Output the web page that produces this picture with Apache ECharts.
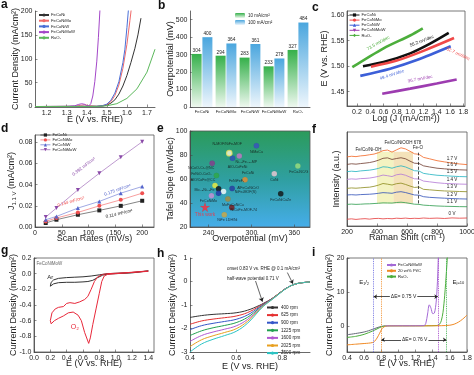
<!DOCTYPE html>
<html>
<head>
<meta charset="utf-8">
<script src="https://cdn.jsdelivr.net/npm/echarts@6.0.0/dist/echarts.min.js"></script>
<style>
  html, body { margin: 0; padding: 0; background: #fff; }
  #chart { width: 474px; height: 375px; }
</style>
</head>
<body>
<div id="chart"></div>
<script>
// ---- a: OER polarization curves, [E (V), j (mA/cm2)] ----
const aNames = ['FeCoNi', 'FeCoNiMo', 'FeCoNiW', 'FeCoNiMoW', 'RuO₂'];
const aFeCoNi = [[1.142, 0], [1.45, 0.4], [1.48, 1], [1.5, 3], [1.52, 7], [1.54, 14], [1.56, 26], [1.58, 43], [1.6, 65], [1.62, 92], [1.64, 122], [1.655, 150], [1.67, 185]];
const aFeCoNiMo = [[1.142, 0], [1.34, 0.5], [1.37, 2.5], [1.39, 3.5], [1.41, 2], [1.45, 0.5], [1.48, 2], [1.5, 4], [1.52, 10], [1.54, 23], [1.56, 45], [1.58, 80], [1.6, 130], [1.615, 180], [1.622, 205]];
const aFeCoNiW = [[1.142, 0], [1.45, 0.5], [1.48, 2], [1.5, 5], [1.52, 13], [1.54, 28], [1.56, 52], [1.58, 92], [1.59, 120], [1.6, 165], [1.608, 205]];
const aFeCoNiMoW = [[1.142, 0], [1.3, 0.2], [1.34, 1.5], [1.36, 4.5], [1.375, 5.8], [1.39, 4.5], [1.4, 2], [1.41, 1.2], [1.42, 6], [1.43, 22], [1.44, 52], [1.45, 95], [1.458, 145], [1.466, 205]];
const aRuO2 = [[1.142, 0], [1.45, 0.3], [1.5, 1.5], [1.55, 6], [1.6, 17], [1.65, 37], [1.7, 72], [1.74, 120]];

// ---- b: overpotentials (mV) ----
const bNames = ['FeCoNi', 'FeCoNiMo', 'FeCoNiW', 'FeCoNiMoW', 'RuO₂'];
const b10 = [304, 294, 283, 233, 327];
const b100 = [400, 364, 361, 278, 484];

// ---- c: Tafel plots, [log j, E] ----
const cNames = ['FeCoNi', 'FeCoNiMo', 'FeCoNiW', 'FeCoNiMoW', 'RuO₂'];
const cFeCoNi = [[0.29, 1.500], [0.6, 1.508], [1.0, 1.525], [1.3, 1.544], [1.58, 1.565]];
const cFeCoNiMo = [[0.41, 1.499], [0.8, 1.511], [1.2, 1.530], [1.66, 1.555]];
const cFeCoNiW = [[0.25, 1.481], [0.7, 1.495], [1.1, 1.512], [1.61, 1.539]];
const cFeCoNiMoW = [[0.58, 1.446], [1.0, 1.456], [1.4, 1.466], [1.7, 1.474]];
const cRuO2 = [[0.13, 1.498], [0.6, 1.535], [1.0, 1.560], [1.19, 1.574]];
const cSlopes = ['55.2 mV/dec', '52.7 mV/dec', '49.4 mV/dec', '36.7 mV/dec', '73.5 mV/dec'];

// ---- d: double-layer capacitance ----
const dNames = ['FeCoNi', 'FeCoNiMo', 'FeCoNiW', 'FeCoNiMoW'];
const dRates = [20, 40, 80, 120, 160, 200];
const dFeCoNi = [0.0038, 0.0069, 0.0116, 0.0157, 0.0200, 0.0248];
const dFeCoNiMo = [0.0053, 0.0085, 0.0138, 0.0200, 0.0257, 0.0320];
const dFeCoNiW = [0.0069, 0.0100, 0.0179, 0.0242, 0.0320, 0.0383];
const dFeCoNiMoW = [0.0094, 0.0179, 0.0351, 0.0508, 0.0659, 0.0806];
const dCdl = ['0.114 mF/cm²', '0.144 mF/cm²', '0.175 mF/cm²', '0.392 mF/cm²'];

// ---- e: comparison with reported catalysts ----
const eNames = ['NiMoCu', 'N-MOF/NiFe-MOF', 'Ni₁.₅Fe₁.₅-MP', 'AlO-CoFeNi', 'NiCoO₂Cr₂@NC', 'FeNiO₂CoO₂', 'FeCoNi', 'CoNi', 'FeCo-NC/G', 'FeCoNiCuZn', 'AlO/CoFe@CC', 'FeNiFeF₂', 'NiFe-MOF(S)', 'Mo₁.₅Ni₁.₅Fe', 'AlFeCoNiCrO', 'FeCoNiMo', 'MoFeCoNiCu', 'NiCoFe-MOF-74', 'NiFe LDH/Ni', 'This work'];
const eEta = [307, 269, 283, 273.5, 245, 251, 291, 332, 365, 341, 249, 254, 261, 254, 273, 244, 267, 272.5, 262, 235];
const eTafel = [87.8, 81.5, 79.2, 77.3, 73.1, 62.9, 59.3, 64.3, 70.9, 47.7, 54.6, 51.8, 49.6, 48.2, 52.1, 46.0, 43.3, 36.3, 30.2, 36.6];

// ---- f: in-situ Raman spectra (offset) ----
const fVolts = ['1.7 V', '1.6 V', '1.5 V', '1.4 V', '1.3 V', '1.2 V', '1.1 V', '0 V'];
const fShift = [200, 230, 260, 290, 320, 350, 380, 410, 440, 470, 500, 530, 560, 590, 620, 650, 680, 710, 750, 800, 850, 900, 950, 1000];
const f17 = [73.5, 74.2, 73.8, 74.6, 75.0, 75.8, 76.5, 78.0, 80.2, 80.8, 78.6, 81.0, 83.2, 82.0, 79.5, 76.8, 76.2, 73.0, 71.5, 69.5, 68.2, 67.0, 66.0, 65.3];
const f16 = [65.5, 66.2, 65.8, 66.4, 66.9, 67.5, 68.5, 70.0, 72.0, 72.5, 70.8, 71.8, 72.6, 71.5, 69.0, 66.8, 66.5, 64.0, 62.8, 61.5, 60.8, 60.2, 59.8, 59.5];
const f15 = [57.8, 58.3, 57.9, 58.6, 59.0, 59.4, 60.2, 61.3, 63.0, 62.6, 61.5, 63.0, 64.0, 62.8, 60.8, 58.8, 58.5, 56.0, 55.0, 54.0, 53.5, 53.0, 52.6, 52.4];
const f14 = [49.6, 50.1, 49.8, 50.4, 50.6, 51.0, 51.8, 52.8, 54.2, 53.5, 52.6, 54.5, 55.2, 54.0, 52.0, 50.2, 50.0, 47.8, 47.0, 46.0, 45.3, 45.0, 44.6, 44.4];
const f13 = [40.0, 40.5, 40.2, 40.6, 41.0, 41.3, 42.2, 43.5, 45.2, 44.5, 43.6, 45.0, 45.6, 44.2, 42.5, 41.0, 41.5, 39.0, 38.5, 37.8, 37.3, 37.0, 36.7, 36.5];
const f12 = [33.0, 33.3, 33.0, 33.4, 33.6, 33.8, 34.2, 34.8, 35.5, 35.2, 34.8, 36.0, 36.5, 35.6, 34.3, 33.0, 32.8, 31.2, 30.5, 30.0, 29.6, 29.2, 28.9, 28.7];
const f11 = [23.0, 23.3, 23.0, 23.2, 23.5, 23.6, 23.9, 24.2, 24.6, 24.5, 24.4, 25.0, 25.3, 24.8, 24.0, 23.2, 23.0, 22.2, 21.8, 21.3, 21.0, 20.8, 20.6, 20.5];
const f0 = [7.2, 7.6, 7.0, 7.5, 7.8, 7.3, 7.9, 8.1, 7.6, 8.0, 7.7, 8.3, 8.0, 8.4, 7.9, 8.2, 8.0, 8.5, 8.1, 8.4, 8.0, 8.6, 8.3, 8.5];

// ---- g: CV in Ar / O2, [E, j] ----
const gAr = [[0.2, -0.16], [0.21, -0.11], [0.24, -0.08], [0.3, -0.06], [0.4, -0.05], [0.5, -0.045], [0.6, -0.04], [0.7, -0.03], [0.8, -0.015], [0.9, 0.0], [1.0, 0.005], [1.2, 0.015], [1.4, 0.035], [1.39, 0.02], [1.2, 0.01], [1.0, 0.0], [0.9, -0.005], [0.84, -0.02], [0.78, -0.05], [0.72, -0.085], [0.66, -0.1], [0.6, -0.105], [0.5, -0.11], [0.4, -0.11], [0.3, -0.115], [0.24, -0.13], [0.2, -0.16]];
const gO2 = [[1.4, 0.03], [1.2, 0.015], [1.0, 0.0], [0.9, -0.01], [0.86, -0.03], [0.83, -0.1], [0.8, -0.25], [0.76, -0.45], [0.72, -0.65], [0.69, -0.82], [0.67, -0.89], [0.65, -0.88], [0.62, -0.75], [0.58, -0.6], [0.54, -0.53], [0.48, -0.49], [0.42, -0.5], [0.36, -0.54], [0.3, -0.57], [0.25, -0.6], [0.21, -0.64], [0.2, -0.64], [0.2, -0.6], [0.22, -0.5], [0.26, -0.45], [0.3, -0.43], [0.36, -0.42], [0.4, -0.38], [0.44, -0.37], [0.5, -0.38], [0.56, -0.36], [0.62, -0.33], [0.66, -0.29], [0.7, -0.2], [0.74, -0.1], [0.78, -0.04], [0.84, -0.01], [0.9, 0.0], [1.1, 0.01], [1.4, 0.035]];

// ---- h: ORR LSV at different rotation rates ----
const hRpm = ['400 rpm', '625 rpm', '900 rpm', '1225 rpm', '1600 rpm', '2025 rpm', '2500 rpm'];
const hE = [0.4, 0.45, 0.5, 0.55, 0.6, 0.65, 0.7, 0.72, 0.75, 0.78, 0.8, 0.82, 0.85, 0.88, 0.92];
const h400 = [-1.53, -1.45, -1.4, -1.37, -1.33, -1.22, -1.02, -0.92, -0.76, -0.55, -0.4, -0.27, -0.13, -0.06, -0.02];
const h625 = [-1.82, -1.68, -1.6, -1.54, -1.47, -1.32, -1.06, -0.94, -0.76, -0.55, -0.4, -0.27, -0.13, -0.06, -0.02];
const h900 = [-2.05, -1.88, -1.78, -1.7, -1.61, -1.42, -1.1, -0.96, -0.77, -0.56, -0.4, -0.27, -0.13, -0.06, -0.02];
const h1225 = [-2.3, -2.1, -1.97, -1.87, -1.75, -1.52, -1.14, -0.98, -0.78, -0.56, -0.41, -0.27, -0.13, -0.06, -0.02];
const h1600 = [-2.55, -2.3, -2.15, -2.03, -1.89, -1.61, -1.18, -1.0, -0.79, -0.57, -0.41, -0.27, -0.13, -0.06, -0.02];
const h2025 = [-2.77, -2.48, -2.31, -2.17, -2.01, -1.69, -1.21, -1.02, -0.8, -0.57, -0.41, -0.28, -0.13, -0.06, -0.02];
const h2500 = [-3.0, -2.66, -2.46, -2.3, -2.12, -1.77, -1.24, -1.04, -0.81, -0.58, -0.42, -0.28, -0.13, -0.06, -0.02];

// ---- i: bifunctional ORR/OER, [E, j] ----
const iNames = ['FeCoNiMoW', '20 wt% Pt/C', 'RuO₂'];
const iMoWorr = [[0.4, -2.6], [0.45, -2.45], [0.5, -2.25], [0.55, -2.05], [0.6, -1.8], [0.65, -1.45], [0.7, -1.0], [0.75, -0.55], [0.8, -0.15], [0.85, 0]];
const iMoWoer = [[0.85, 0], [1.0, 0.02], [1.2, 0.03], [1.3, 0.1], [1.32, 0.8], [1.34, 3.5], [1.36, 6.2], [1.38, 5.2], [1.4, 3.6], [1.42, 3.8], [1.44, 7], [1.455, 13], [1.465, 20], [1.47, 24]];
const iPtC = [[0.4, -5.6], [0.5, -5.4], [0.6, -5.2], [0.65, -5.1], [0.7, -4.9], [0.72, -4.6], [0.75, -3.6], [0.78, -2.2], [0.8, -1.2], [0.82, -0.5], [0.85, -0.1], [0.9, 0], [1.2, 0], [1.5, 0.05], [1.6, 0.2], [1.65, 0.5], [1.7, 1.1], [1.75, 2.0], [1.8, 3.2]];
const iRuO2 = [[0.4, -3.4], [0.5, -3.1], [0.6, -2.5], [0.7, -1.5], [0.75, -0.9], [0.8, -0.3], [0.85, -0.05], [0.9, 0], [1.2, 0.02], [1.45, 0.1], [1.48, 0.5], [1.5, 1.5], [1.52, 4], [1.54, 9], [1.56, 16], [1.57, 20], [1.575, 23]];
const iHalfWave = [0.71, 0.80];
const iJ10 = [1.46, 1.56];

// ---- styles ----
const FONT = '"Liberation Sans", Arial, sans-serif';
const INK = '#222';
const aColors = ['#333333', '#f06a6a', '#4a6fd6', '#a347c8', '#5cb85c'];
const cColors = ['#111111', '#f04848', '#3c5fd8', '#9d3cb0', '#4cae3c'];
const cSymbols = ['rect', 'circle', 'triangle', 'path://M0,0 L10,0 L5,9 Z', 'diamond'];
const dColors = ['#222222', '#f05050', '#5565cc', '#8a4aa8'];
const eColors = ['#3a4fc0', '#fffbe0', '#c878c8', '#2f4db5', '#8a3a8c', '#2fa845', '#f08a2a', '#f3c9d6', '#9ee07e', '#111111', '#f4f03c', '#111111', '#ffffff', '#2333a8', '#2838a0', '#cc8fd6', '#a88a3a', '#7a1515', '#d0a840', '#ff2b3a'];
const eLabelOffset = [[0, 6], [-2, -9], [7, 6], [5, 9], [-11, 5], [-15, -2], [3, -7], [0, 6], [1, 6], [0, 6], [-12, -5], [18, -8], [22, 1], [-14, -3], [16, 0], [-3, 5], [5, 6], [12, 3], [3, 5], [0, 8]];
const fColors = ['#f26522', '#6e3b2e', '#20b2c0', '#b277d6', '#8c8a1c', '#2f4fb8', '#2c9c4c', '#e53a3a'];
const hColors = ['#333333', '#e53030', '#3456c8', '#21a050', '#b258d0', '#e8a020', '#2cc4c4'];
const iColors = ['#a46ad6', '#f08a24', '#4cae3c'];
const STAR = 'path://M50,0 L61,35 L98,35 L68,57 L79,91 L50,70 L21,91 L32,57 L2,35 L39,35 Z';

function grid(left, top, width, height, box, extra) {
  return Object.assign({
    left, top, width, height, show: box, borderColor: '#555', borderWidth: 0.8,
    backgroundColor: 'transparent', containLabel: false, outerBoundsMode: 'none'
  }, extra);
}

function axis(gi, name, gap, extra) {
  return Object.assign({
    type: 'value', gridIndex: gi, name, nameLocation: 'middle', nameGap: gap,
    nameMoveOverlap: false,
    nameTextStyle: { fontSize: 9, color: INK, fontFamily: FONT },
    axisLine: { show: true, onZero: false, lineStyle: { color: '#444', width: 0.8 } },
    axisTick: { show: true, inside: true, length: 2.5, lineStyle: { color: '#444', width: 0.6 } },
    axisLabel: { fontSize: 7, color: INK, margin: 2.5, fontFamily: FONT },
    splitLine: { show: false }
  }, extra);
}

function ticks(values, digits) {
  return {
    axisLabel: { customValues: values, fontSize: 7, color: INK, margin: 2.5, fontFamily: FONT,
      formatter: v => digits == null ? String(v) : Number(v).toFixed(digits) },
    axisTick: { show: true, inside: true, length: 2.5, customValues: values, lineStyle: { color: '#444', width: 0.6 } }
  };
}

function line(name, gi, data, color, extra) {
  return Object.assign({
    type: 'line', name, xAxisIndex: gi, yAxisIndex: gi, data,
    symbol: 'none', showSymbol: false, smooth: false,
    lineStyle: { color, width: 1 }, itemStyle: { color }, silent: true, animation: false
  }, extra);
}

function legend(names, left, top, extra) {
  return Object.assign({
    data: names, left, top, orient: 'vertical', itemWidth: 10, itemHeight: 4, itemGap: 1.6,
    padding: 0, selectedMode: false, formatter: n => n.slice(2),
    textStyle: { fontSize: 4.2, color: INK, fontFamily: FONT, padding: [0, 0, 0, -3] }
  }, extra);
}

const grids = [
  grid(35, 11, 120, 96, false),
  grid(190, 11, 120, 96, false),
  grid(347, 11, 118, 95, true),
  grid(35, 135, 119, 92, true),
  grid(190, 131, 120, 96, true, {
    backgroundColor: new echarts.graphic.LinearGradient(0, 0, 0, 1, [
      { offset: 0, color: '#2b9b5a' }, { offset: 0.5, color: '#2f9fa0' }, { offset: 1, color: '#46adea' }])
  }),
  grid(347, 132, 120, 94, true),
  grid(34, 258, 120, 94, true),
  grid(190, 258, 120, 94, false),
  grid(347, 258, 120, 94, true)
];

const xAxes = [
  axis(0, 'E (V vs. RHE)', 8, Object.assign({ min: 1.142, max: 1.74 }, ticks([1.2, 1.3, 1.4, 1.5, 1.6, 1.7], 1))),
  axis(1, '', 0, { type: 'category', data: bNames, axisTick: { show: false },
    axisLabel: { fontSize: 4.3, color: INK, margin: 3, interval: 0, fontFamily: FONT } }),
  axis(2, 'Log (J (mA/cm²))', 8, Object.assign({ min: 0.05, max: 1.825 }, ticks([0.2, 0.4, 0.6, 0.8, 1.0, 1.2, 1.4, 1.6, 1.8], 1))),
  axis(3, 'Scan Rates (mV/s)', 7, Object.assign({ min: 0, max: 222 }, ticks([0, 50, 100, 150, 200]))),
  axis(4, 'Overpotential (mV)', 7, Object.assign({ min: 214, max: 382 }, ticks([240, 300, 360]))),
  axis(5, 'Raman Shift (cm⁻¹)', 7, Object.assign({ min: 200, max: 1000 }, ticks([200, 400, 600, 800, 1000]))),
  axis(6, 'E (V vs. RHE)', 7, Object.assign({ min: 0, max: 1.47 }, ticks([0, 0.2, 0.4, 0.6, 0.8, 1.0, 1.2, 1.4], 1))),
  axis(7, 'E (V vs. RHE)', 10, Object.assign({ min: 0.4, max: 0.92 }, ticks([0.4, 0.6, 0.8], 1))),
  axis(8, 'E (V vs. RHE)', 7, Object.assign({ min: 0.4, max: 1.8 }, ticks([0.4, 0.6, 0.8, 1.0, 1.2, 1.4, 1.6, 1.8], 1)))
];

const yAxes = [
  axis(0, 'Current Density (mA/cm²)', 15, Object.assign({ min: -1, max: 200 }, ticks([0, 50, 100, 150, 200]))),
  axis(1, 'Overpotential (mV)', 15, Object.assign({ min: 0, max: 550 }, ticks([0, 100, 200, 300, 400, 500]))),
  axis(2, 'E (V vs. RHE)', 18, Object.assign({ min: 1.422, max: 1.608 }, ticks([1.45, 1.5, 1.55, 1.6], 2))),
  axis(3, '{n|J}{s|1.1 V}{n| (mA/cm²)}', 18, Object.assign({ min: 0, max: 0.087 }, ticks([0, 0.02, 0.04, 0.06, 0.08], 2), {
    nameTextStyle: { fontSize: 9, color: INK, fontFamily: FONT,
      rich: { n: { fontSize: 9, fontFamily: FONT, color: INK }, s: { fontSize: 6, fontFamily: FONT, color: INK, verticalAlign: 'bottom', padding: [4, 0, 0, 0] } } }
  })),
  axis(4, 'Tafel Slope (mV/dec)', 15, Object.assign({ min: 20, max: 100 }, ticks([20, 40, 60, 80, 100]))),
  axis(5, 'Intensity (a.u.)', 6, { min: 0, max: 100, axisLabel: { show: false }, axisTick: { show: false } }),
  axis(6, 'Current Density (mA/cm²)', 16, Object.assign({ min: -1, max: 0.2 }, ticks([-1, -0.8, -0.6, -0.4, -0.2, 0, 0.2], 1))),
  axis(7, 'Current Density (mA/cm²)', 13, Object.assign({ min: -3, max: 1 }, ticks([-3, -2, -1, 0, 1]))),
  axis(8, 'Current Density (mA/cm²)', 13, Object.assign({ min: -7.7, max: 20 }, ticks([0, 10, 20])))
];

const series = [];

// a
[aFeCoNi, aFeCoNiMo, aFeCoNiW, aFeCoNiMoW, aRuO2].forEach((d, k) =>
  series.push(line('a:' + aNames[k], 0, d, aColors[k])));

// b
function barGrad(top, bottom) {
  return new echarts.graphic.LinearGradient(0, 0, 0, 1, [{ offset: 0, color: top }, { offset: 1, color: bottom }]);
}
[[b10, '10 mA/cm²', '#35b04a', '#eef8ef'], [b100, '100 mA/cm²', '#4aa6de', '#eef6fc']].forEach(([d, n, c0, c1]) =>
  series.push({
    type: 'bar', name: 'b:' + n, xAxisIndex: 1, yAxisIndex: 1, data: d, barWidth: 10, barGap: '8%',
    itemStyle: { color: barGrad(c0, c1) }, silent: true, animation: false,
    label: { show: true, position: 'top', distance: 1, fontSize: 4.8, color: INK, fontFamily: FONT }
  }));

// c
[cFeCoNi, cFeCoNiMo, cFeCoNiW, cFeCoNiMoW, cRuO2].forEach((d, k) =>
  series.push(line('c:' + cNames[k], 2, d, cColors[k], {
    symbol: cSymbols[k], symbolSize: 4, showSymbol: false, smooth: 0.3,
    lineStyle: { color: cColors[k], width: 2.6 }
  })));

// d
[dFeCoNi, dFeCoNiMo, dFeCoNiW, dFeCoNiMoW].forEach((d, k) =>
  series.push(line('d:' + dNames[k], 3, dRates.map((r, j) => [r, d[j]]), dColors[k], {
    symbol: cSymbols[k], symbolSize: 4, showSymbol: true,
    lineStyle: { color: dColors[k], width: 0.7, opacity: 0.8 }
  })));

// e
series.push({
  type: 'scatter', name: 'e:lit', xAxisIndex: 4, yAxisIndex: 4, silent: true, animation: false,
  data: eNames.map((n, k) => ({
    name: n, value: [eEta[k], eTafel[k]],
    symbol: k === eNames.length - 1 ? STAR : 'circle',
    symbolSize: k === eNames.length - 1 ? 10 : 5.5,
    itemStyle: { color: eColors[k], borderColor: k === 1 ? '#e8e060' : 'rgba(0,0,0,0.15)', borderWidth: k === 1 ? 1.2 : 0.3 },
    label: {
      show: true, position: 'inside', offset: eLabelOffset[k], formatter: '{b}',
      fontSize: k === eNames.length - 1 ? 4.8 : 3.6,
      color: k === eNames.length - 1 ? '#ff2b3a' : '#111', fontFamily: FONT
    }
  }))
});

// f
const fData = [f17, f16, f15, f14, f13, f12, f11, f0];
fData.forEach((d, k) =>
  series.push(line('f:' + fVolts[k], 5, fShift.map((s, j) => [s, d[j]]), fColors[k], {
    lineStyle: { color: fColors[k], width: 0.8 }, z: 3
  })));
series[series.length - 1].markArea = {
  silent: true,
  data: [
    [{ coord: [400, 24], itemStyle: { color: 'rgba(238,236,160,0.65)' } }, { coord: [510, 79] }],
    [{ coord: [510, 24], itemStyle: { color: 'rgba(236,206,140,0.6)' } }, { coord: [640, 79] }]
  ]
};
series[series.length - 1].markLine = {
  silent: true, symbol: 'none', animation: false,
  lineStyle: { color: '#222', width: 0.8, type: 'dashed' }, label: { show: false },
  data: [[{ coord: [678, 24] }, { coord: [678, 78] }]]
};

// g
series.push(line('g:Ar', 6, gAr, '#333333'));
series.push(line('g:O2', 6, gO2, '#e8283a'));

// h
[h400, h625, h900, h1225, h1600, h2025, h2500].forEach((d, k) =>
  series.push(line('h:' + hRpm[k], 7, hE.map((e, j) => [e, d[j]]), hColors[k], { smooth: 0.4 })));
series[series.length - 1].markLine = {
  silent: true, symbol: ['none', 'arrow'], symbolSize: 4, animation: false,
  lineStyle: { color: '#222', width: 0.7, type: 'solid' }, label: { show: false },
  data: [
    [{ coord: [0.822, 0.38] }, { coord: [0.846, -0.1] }],
    [{ coord: [0.684, 0.02] }, { coord: [0.714, -0.86] }]
  ]
};

// i
series.push(line('i:FeCoNiMoW-ORR', 8, iMoWorr, '#666a7a', { smooth: 0.3 }));
series.push(line('i:' + iNames[2], 8, iRuO2, iColors[2], { smooth: 0.3 }));
series.push(line('i:' + iNames[1], 8, iPtC, iColors[1], {
  smooth: 0.3,
  markLine: {
    silent: true, symbol: 'none', animation: false, label: { show: false },
    lineStyle: { width: 0.8, type: 'dotted' },
    data: [
      { xAxis: iHalfWave[0], lineStyle: { color: '#6b6be0', width: 0.9, type: 'dotted' } },
      { xAxis: iHalfWave[1], lineStyle: { color: '#f08a24', width: 0.9, type: 'dotted' } },
      { xAxis: iJ10[0], lineStyle: { color: '#a040c8', width: 0.9, type: 'dotted' } },
      { xAxis: iJ10[1], lineStyle: { color: '#3cae4c', width: 0.9, type: 'dotted' } }
    ]
  }
}));
series.push(line('i:' + iNames[0], 8, iMoWoer, iColors[0], {
  smooth: 0.3,
  markLine: {
    silent: true, symbol: ['arrow', 'arrow'], symbolSize: 3.5, animation: false, label: { show: false },
    lineStyle: { color: '#222', width: 0.8, type: 'solid' },
    data: [
      [{ coord: [iHalfWave[0], 8.6] }, { coord: [iJ10[0], 8.6] }],
      [{ coord: [iHalfWave[1], -4.1] }, { coord: [iJ10[1], -4.1] }]
    ]
  }
}));

const legends = [
  legend(aNames.map(n => 'a:' + n), 38, 13, { itemHeight: 4, itemGap: 1.7 }),
  legend(['b:10 mA/cm²', 'b:100 mA/cm²'], 235, 13, { itemWidth: 10, itemHeight: 5, itemGap: 2,
    textStyle: { fontSize: 4.5, color: INK, fontFamily: FONT, padding: [0, 0, 0, -2] } }),
  legend(cNames.map(n => 'c:' + n), 349, 13, { itemWidth: 10, itemHeight: 4, itemGap: 1.1, lineStyle: { width: 1 } }),
  legend(dNames.map(n => 'd:' + n), 40, 133, { itemWidth: 10, itemHeight: 4, itemGap: 0.9, lineStyle: { width: 0.8 } }),
  legend(hRpm.map(n => 'h:' + n), 266, 305, { itemWidth: 11, itemHeight: 4, itemGap: 2.6,
    textStyle: { fontSize: 4.6, color: INK, fontFamily: FONT, padding: [0, 0, 0, -2] } }),
  legend(iNames.map(n => 'i:' + n), 386, 263, { itemWidth: 9, itemHeight: 4, itemGap: 1.8 })
];

const chart = echarts.init(document.getElementById('chart'), null, { renderer: 'canvas' });
chart.setOption({
  animation: false,
  backgroundColor: '#fff',
  textStyle: { fontFamily: FONT },
  grid: grids, xAxis: xAxes, yAxis: yAxes, legend: legends, series
});

// annotations placed at data coordinates
const P = (gi, x, y) => chart.convertToPixel({ gridIndex: gi }, [x, y]);
function T(text, pt, o) {
  o = o || {};
  return {
    type: 'text', x: pt[0], y: pt[1], rotation: (o.rot || 0) * Math.PI / 180, z: 100, silent: true,
    style: Object.assign({
      text, fill: o.color || INK, fontSize: o.size || 4.5, fontFamily: FONT,
      fontWeight: o.bold ? 'bold' : 'normal', align: o.align || 'center', verticalAlign: o.valign || 'middle'
    }, o.style)
  };
}
const letter = (t, x, y) => T(t, [x, y], { size: 12, bold: true, align: 'left', valign: 'top', color: '#111' });

const fAt900 = fShift.indexOf(900);
const graphic = [
  letter('a', 1, -1), letter('b', 158, 0), letter('c', 312, 2),
  letter('d', 1, 123), letter('e', 157, 123), letter('f', 312, 124),
  letter('g', 1, 245), letter('h', 157, 248), letter('i', 312, 247),

  T(cSlopes[4], P(2, 0.52, 1.545), { rot: 29, color: cColors[4] }),
  T(cSlopes[0], P(2, 1.175, 1.549), { rot: 21, color: cColors[0] }),
  T(cSlopes[1], P(2, 1.72, 1.524), { rot: -25, color: cColors[1] }),
  T(cSlopes[2], P(2, 0.725, 1.483), { rot: 18, color: cColors[2] }),
  T(cSlopes[3], P(2, 1.15, 1.475), { rot: 11, color: cColors[3] }),

  T(dCdl[3], P(3, 91, 0.057), { rot: 37, color: dColors[3] }),
  T(dCdl[2], P(3, 154, 0.035), { rot: 19, color: dColors[2] }),
  T(dCdl[1], P(3, 67, 0.024), { rot: 16, color: dColors[1] }),
  T(dCdl[0], P(3, 157, 0.0125), { rot: 13, color: dColors[0] }),

  T('Fe/Co/Ni-OH', P(5, 344, 81.6), { size: 4.5 }),
  T('Fe/Co/NiOOH', P(5, 544, 88.6), { size: 4.5 }),
  T('678', P(5, 670, 88.6), { size: 4.5 }),
  T('Fe-O', P(5, 673, 83), { size: 4.5 }),

  T('FeCoNiMoW', P(6, 0.03, 0.125), { align: 'left', color: '#666', size: 4.5 }),
  T('Ar', P(6, 0.2, -0.05), { size: 6 }),
  T('O₂', P(6, 0.5, -0.68), { size: 7, color: '#e8283a' }),

  T('onset 0.83 V vs. RHE @ 0.1 mA/cm²', P(7, 0.56, 0.55), { align: 'left', size: 4.5 }),
  T('half-wave potential 0.71 V', P(7, 0.56, 0.13), { align: 'left', size: 4.5 }),

  T('E₁/₂', P(8, 0.6, 12.9), { size: 6 }),
  T('{a|E}{b|j=10}', P(8, 1.7, 12.9), { style: { rich: { a: { fontSize: 6, fontFamily: FONT, fill: INK }, b: { fontSize: 4, fontFamily: FONT, fill: INK, verticalAlign: 'bottom' } } } }),
  T('ΔE= 0.75 V', P(8, 1.06, 8.6), { size: 5, style: { backgroundColor: '#fff', padding: [0, 1] } }),
  T('ΔE= 0.76 V', P(8, 1.19, -4.1), { size: 5, style: { backgroundColor: '#fff', padding: [0, 1] } })
];
fData.forEach((d, k) => graphic.push(T(fVolts[k], P(5, 900, d[fAt900] + 4.5), { size: 4.5 })));
chart.setOption({ graphic });
</script>
</body>
</html>
